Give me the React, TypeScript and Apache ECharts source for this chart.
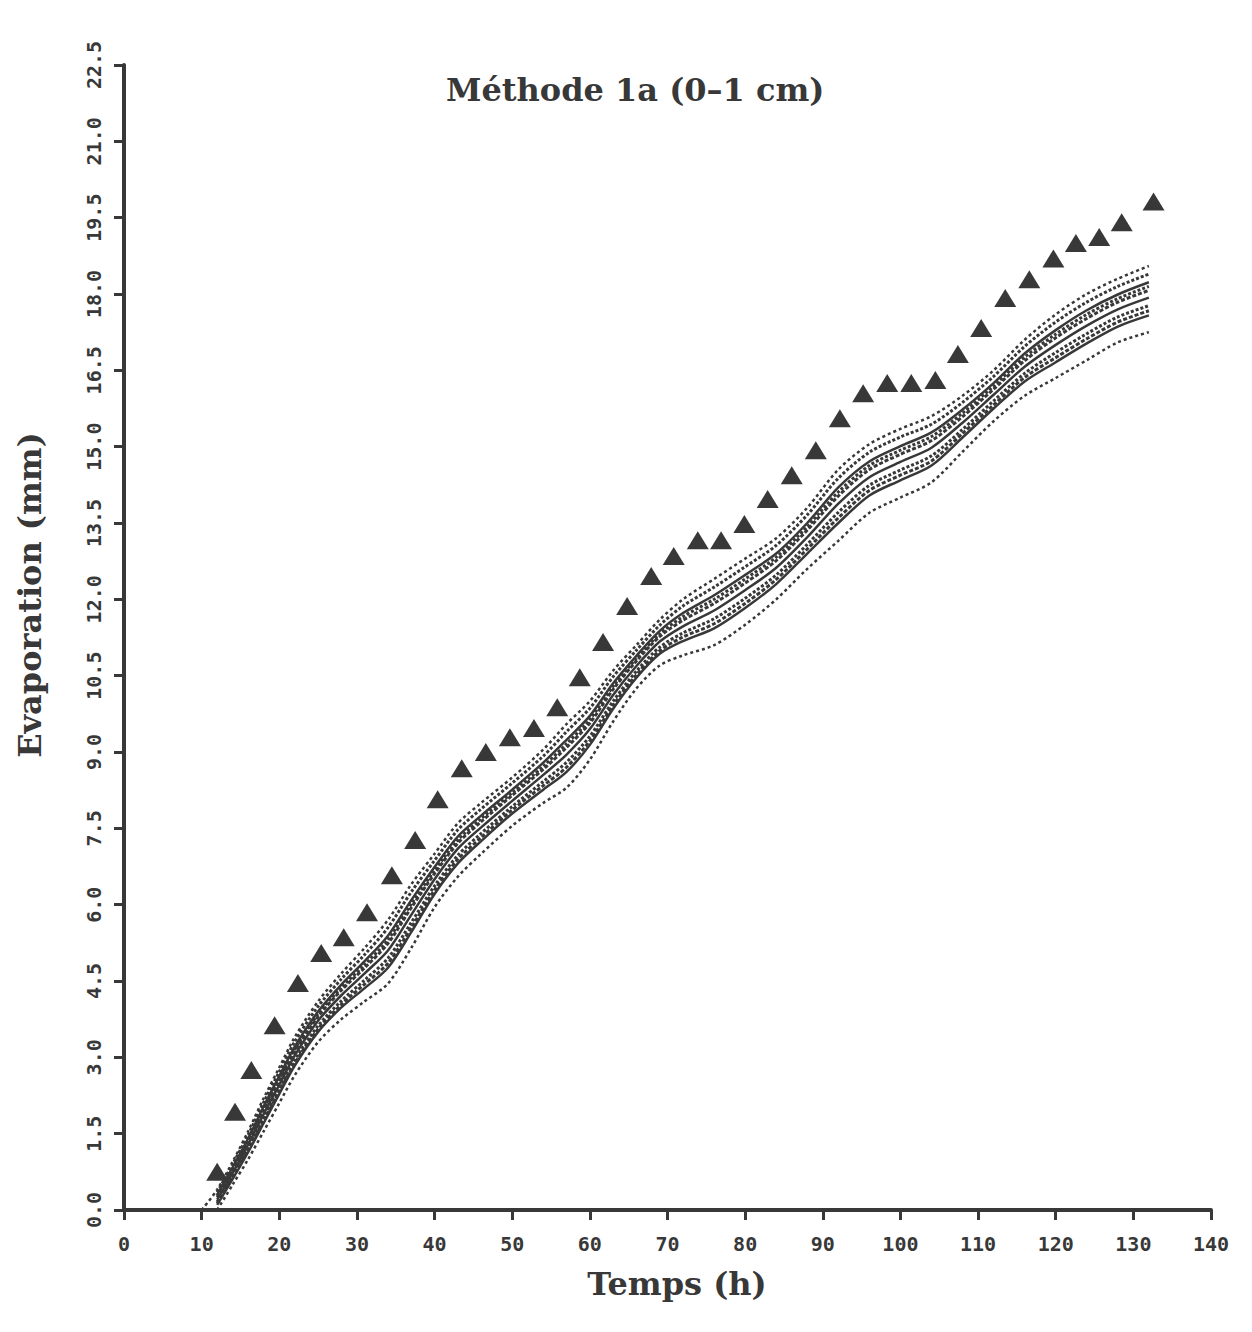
import React, { useEffect, useRef } from "react";
import * as echarts from "echarts";

const TITLE = "Méthode 1a (0–1 cm)";
const X_NAME = "Temps (h)";
const Y_NAME = "Evaporation (mm)";

// Measured points (triangles)
const obsX = [12.0, 14.3, 16.4, 19.4, 22.4, 25.4, 28.3, 31.3, 34.5, 37.5, 40.4, 43.5, 46.6, 49.7, 52.8, 55.8, 58.7, 61.7, 64.8, 67.9, 70.8, 73.9, 76.9, 79.9, 82.9, 86.0, 89.1, 92.2, 95.2, 98.3, 101.4, 104.5, 107.4, 110.4, 113.5, 116.6, 119.7, 122.6, 125.6, 128.5, 132.6];
const obsY = [0.75, 1.93, 2.75, 3.63, 4.46, 5.05, 5.36, 5.85, 6.58, 7.27, 8.07, 8.68, 9.0, 9.29, 9.47, 9.88, 10.47, 11.16, 11.87, 12.46, 12.85, 13.16, 13.16, 13.48, 13.97, 14.44, 14.93, 15.56, 16.05, 16.25, 16.25, 16.31, 16.82, 17.33, 17.92, 18.29, 18.7, 19.0, 19.12, 19.41, 19.82];

// Simulated curves (bundle), common time grid
const simX = [10, 12, 14, 16, 18, 20, 22, 25, 28, 31, 34, 37, 40, 43, 46, 50, 54, 57, 60, 63, 66, 69, 72, 76, 80, 84, 88, 92, 96, 100, 104, 108, 112, 116, 120, 124, 128, 132];
const simUpper = [0.0, 0.4, 0.95, 1.55, 2.2, 2.8, 3.4, 4.1, 4.65, 5.15, 5.7, 6.4, 7.0, 7.6, 8.0, 8.5, 9.05, 9.55, 10.0, 10.6, 11.1, 11.6, 12.0, 12.4, 12.8, 13.2, 13.8, 14.55, 15.05, 15.35, 15.6, 16.0, 16.5, 17.1, 17.6, 18.0, 18.3, 18.55];
const simA = [null, 0.35, 0.9, 1.48, 2.12, 2.72, 3.31, 4.0, 4.54, 5.02, 5.55, 6.25, 6.87, 7.47, 7.88, 8.39, 8.92, 9.4, 9.86, 10.48, 11.0, 11.49, 11.87, 12.24, 12.64, 13.06, 13.66, 14.38, 14.89, 15.19, 15.44, 15.87, 16.38, 16.97, 17.45, 17.84, 18.15, 18.39];
const simB = [null, 0.3, 0.84, 1.41, 2.04, 2.63, 3.21, 3.9, 4.43, 4.89, 5.39, 6.09, 6.74, 7.34, 7.75, 8.26, 8.79, 9.24, 9.71, 10.35, 10.89, 11.38, 11.73, 12.08, 12.48, 12.9, 13.5, 14.2, 14.71, 15.01, 15.28, 15.73, 16.25, 16.83, 17.29, 17.68, 17.99, 18.23];
const simG = [null, 0.28, 0.81, 1.38, 2.0, 2.58, 3.16, 3.85, 4.37, 4.82, 5.31, 6.01, 6.67, 7.27, 7.69, 8.2, 8.72, 9.16, 9.64, 10.29, 10.84, 11.32, 11.66, 12.0, 12.4, 12.83, 13.43, 14.11, 14.63, 14.93, 15.2, 15.66, 16.19, 16.76, 17.21, 17.6, 17.91, 18.15];
const simC = [null, 0.25, 0.78, 1.35, 1.96, 2.54, 3.12, 3.8, 4.32, 4.76, 5.24, 5.94, 6.61, 7.21, 7.63, 8.15, 8.66, 9.09, 9.57, 10.23, 10.79, 11.27, 11.59, 11.92, 12.32, 12.76, 13.36, 14.03, 14.55, 14.85, 15.12, 15.59, 16.13, 16.69, 17.14, 17.52, 17.84, 18.07];
const simD = [null, 0.21, 0.73, 1.29, 1.89, 2.46, 3.04, 3.72, 4.22, 4.65, 5.1, 5.8, 6.5, 7.1, 7.52, 8.04, 8.55, 8.95, 9.45, 10.12, 10.69, 11.17, 11.47, 11.78, 12.18, 12.62, 13.22, 13.88, 14.4, 14.7, 14.98, 15.47, 16.02, 16.57, 17.0, 17.38, 17.7, 17.93];
const simE = [null, 0.16, 0.68, 1.22, 1.81, 2.38, 2.95, 3.62, 4.11, 4.52, 4.95, 5.65, 6.37, 6.97, 7.4, 7.93, 8.42, 8.8, 9.31, 10.0, 10.59, 11.06, 11.34, 11.62, 12.02, 12.48, 13.08, 13.71, 14.24, 14.54, 14.82, 15.34, 15.9, 16.44, 16.85, 17.22, 17.55, 17.77];
const simH = [null, 0.13, 0.64, 1.18, 1.76, 2.33, 2.89, 3.56, 4.04, 4.44, 4.85, 5.55, 6.29, 6.89, 7.32, 7.86, 8.34, 8.7, 9.22, 9.92, 10.52, 10.99, 11.26, 11.52, 11.92, 12.39, 12.99, 13.6, 14.14, 14.44, 14.72, 15.26, 15.82, 16.36, 16.75, 17.12, 17.45, 17.67];
const simF = [null, 0.1, 0.61, 1.14, 1.71, 2.28, 2.84, 3.5, 3.98, 4.36, 4.76, 5.46, 6.21, 6.81, 7.25, 7.79, 8.26, 8.61, 9.14, 9.85, 10.46, 10.93, 11.18, 11.43, 11.83, 12.3, 12.9, 13.5, 14.04, 14.34, 14.63, 15.18, 15.75, 16.28, 16.66, 17.03, 17.36, 17.58];
const simLower = [null, 0.0, 0.5, 1.0, 1.55, 2.1, 2.65, 3.3, 3.75, 4.1, 4.45, 5.15, 5.95, 6.55, 7.0, 7.55, 8.0, 8.3, 8.85, 9.6, 10.25, 10.7, 10.9, 11.1, 11.5, 12.0, 12.6, 13.15, 13.7, 14.0, 14.3, 14.9, 15.5, 16.0, 16.35, 16.7, 17.05, 17.25];

const INK = "#383838";
const SERIF = "'DejaVu Serif', 'Liberation Serif', serif";
const TICKFONT = "'DejaVu Sans Mono', 'Liberation Mono', monospace";

function pairs(xs: number[], ys: (number | null)[]) {
  const out: number[][] = [];
  xs.forEach((x, i) => {
    const y = ys[i];
    if (y !== null && y !== undefined) out.push([x, y]);
  });
  return out;
}

export default function App() {
  const ref = useRef<HTMLDivElement>(null);
  useEffect(() => {
    if (!ref.current) return;
    const chart = echarts.init(ref.current, null, { renderer: "svg" });
    const sims: { ys: (number | null)[]; type: any; w: number }[] = [
      { ys: simUpper, type: [3, 3], w: 2.5 },
      { ys: simA, type: [3, 2], w: 3 },
      { ys: simB, type: "solid", w: 2.5 },
      { ys: simG, type: [3, 2], w: 3 },
      { ys: simC, type: [4, 2], w: 3 },
      { ys: simD, type: "solid", w: 2.5 },
      { ys: simE, type: [3, 2], w: 3 },
      { ys: simH, type: [4, 2], w: 3 },
      { ys: simF, type: "solid", w: 2.5 },
      { ys: simLower, type: [3, 3], w: 2.5 },
    ];
    const lineSeries = sims.map((s) => ({
      type: "line",
      data: pairs(simX, s.ys),
      showSymbol: false,
      smooth: 0.3,
      lineStyle: { color: INK, width: s.w, type: s.type },
      silent: true,
    }));
    chart.setOption({
      animation: false,
      backgroundColor: "#ffffff",
      title: {
        text: TITLE,
        left: 441,
        top: 69,
        textStyle: { fontFamily: SERIF, fontWeight: "bold", fontSize: 32, color: INK },
      },
      grid: { left: 124, right: 41, top: 65, bottom: 122 },
      xAxis: {
        type: "value",
        min: 0,
        max: 140,
        interval: 10,
        axisLine: { show: true, lineStyle: { color: INK, width: 4 } },
        axisTick: { show: true, inside: false, length: 10, lineStyle: { color: INK, width: 3 } },
        axisLabel: { margin: 24, fontFamily: TICKFONT, fontWeight: "bold", fontSize: 20, color: INK },
        splitLine: { show: false },
      },
      yAxis: {
        type: "value",
        min: 0,
        max: 22.5,
        interval: 1.5,
        axisLine: { show: true, lineStyle: { color: INK, width: 4 } },
        axisTick: { show: true, length: 10, lineStyle: { color: INK, width: 3 } },
        axisLabel: {
          rotate: 90,
          margin: 20,
          fontFamily: TICKFONT,
          fontWeight: "bold",
          fontSize: 20,
          color: INK,
          formatter: (v: number) => v.toFixed(1),
        },
        splitLine: { show: false },
      },
      graphic: [
        {
          type: "text",
          x: 30,
          y: 595,
          rotation: Math.PI / 2,
          style: {
            text: Y_NAME,
            fontFamily: SERIF,
            fontWeight: "bold",
            fontSize: 32,
            fill: INK,
            textAlign: "center",
            textVerticalAlign: "middle",
          },
        },
        {
          type: "text",
          x: 677,
          y: 1284,
          style: {
            text: X_NAME,
            fontFamily: SERIF,
            fontWeight: "bold",
            fontSize: 32,
            fill: INK,
            textAlign: "center",
            textVerticalAlign: "middle",
          },
        },
      ],
      series: [
        ...lineSeries,
        {
          type: "scatter",
          data: pairs(obsX, obsY),
          symbol: "triangle",
          symbolSize: [22, 18],
          itemStyle: { color: INK, opacity: 1 },
          silent: true,
        },
      ],
    });
    return () => chart.dispose();
  }, []);
  return (
    <div
      ref={ref}
      style={{ position: "fixed", left: 0, top: 0, width: 1252, height: 1332, background: "#fff" }}
    />
  );
}
